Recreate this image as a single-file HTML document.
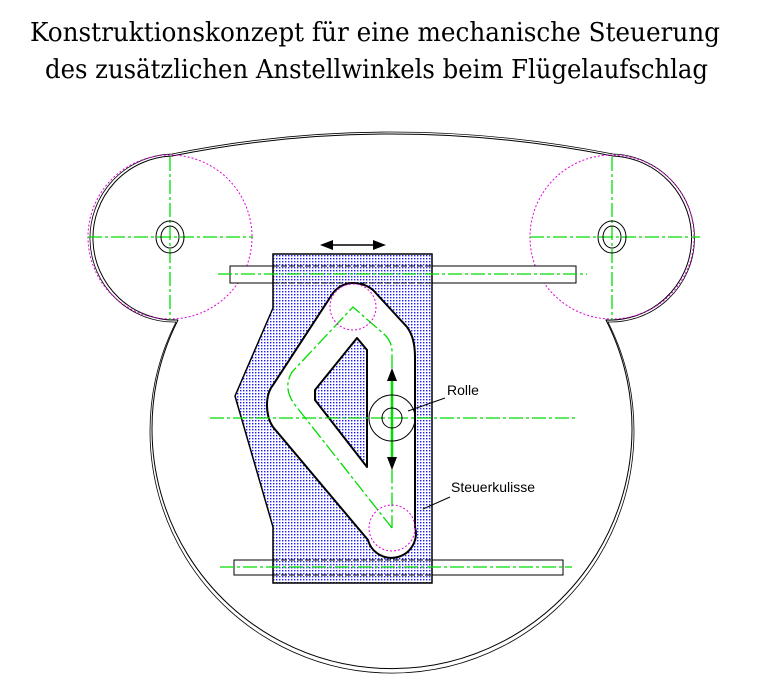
<!DOCTYPE html>
<html><head><meta charset="utf-8"><style>
html,body{margin:0;padding:0;background:#fff;width:783px;height:680px;overflow:hidden}
</style></head><body>
<svg width="783" height="680" viewBox="0 0 783 680" xmlns="http://www.w3.org/2000/svg">
<defs>
<pattern id="dots" width="3" height="3" patternUnits="userSpaceOnUse">
<rect width="3" height="3" fill="#fff"/><rect x="0" y="0" width="1.4" height="1.4" fill="#1a1aff"/>
</pattern>
</defs>
<text x="30" y="41" font-family="DejaVu Serif Condensed, DejaVu Serif, serif" font-stretch="condensed" font-size="26" textLength="690" lengthAdjust="spacingAndGlyphs">Konstruktionskonzept für eine mechanische Steuerung</text>
<text x="45" y="78" font-family="DejaVu Serif Condensed, DejaVu Serif, serif" font-stretch="condensed" font-size="26" textLength="663" lengthAdjust="spacingAndGlyphs">des zusätzlichen Anstellwinkels beim Flügelaufschlag</text>

<!-- outer contour -->
<g fill="none" stroke="#000" stroke-width="1">
<path d="M178,320 A82,82 0 0 1 172,156 Q390,112 613,156 A82,82 0 0 1 606,320 A240,240 0 1 1 178,320"/>
<path d="M176,322 A84,84 0 0 1 172,154 Q390,110 613,154 A84,84 0 0 1 608,322 A242,242 0 1 1 176,322" stroke-width="0.8"/>
</g>

<!-- magenta circles -->
<g fill="none" stroke="#e000e0" stroke-width="1" stroke-dasharray="2,2">
<circle cx="170" cy="237" r="82"/>
<circle cx="612" cy="237" r="82"/>
</g>

<!-- centerlines lobes -->
<g stroke="#00dd00" stroke-width="1.3" stroke-dasharray="14,3,3,3" fill="none">
<line x1="88" y1="237" x2="253" y2="237"/>
<line x1="170" y1="157" x2="170" y2="320"/>
<line x1="530" y1="237" x2="700" y2="237"/>
<line x1="612" y1="157" x2="612" y2="320"/>
</g>
<g fill="none" stroke="#000">
<ellipse cx="170" cy="237" rx="14" ry="16"/><ellipse cx="170" cy="237" rx="9" ry="11"/>
<ellipse cx="612" cy="237" rx="14" ry="16"/><ellipse cx="612" cy="237" rx="9" ry="11"/>
</g>

<!-- rods -->
<rect x="230" y="266" width="346" height="17" fill="#fff" stroke="#000"/>
<rect x="234" y="560" width="329" height="15" fill="#fff" stroke="#000"/>

<!-- block -->
<path d="M273,254 L432,254 L432,583 L273,583 L273,527 L235,396 L273,308 Z" fill="url(#dots)" stroke="#000" stroke-width="1.5"/>
<!-- slot -->
<path d="M353,283 C362,283 368,286 373,290 L407,327 C413,335 415,345 415,357 L415,527 A23,23 0 0 1 368,540 L273,427 C265,415 265,395 273,385 L333,293 C338,287 345,283 353,283 Z" fill="#fff" stroke="#000" stroke-width="2"/>
<path d="M357,338 L367,350 L367,467 L315,400 L315,390 Z" fill="url(#dots)" stroke="#000" stroke-width="2" stroke-linejoin="round"/>

<line x1="273" y1="266" x2="432" y2="266" stroke="#000" stroke-dasharray="6,2"/>
<line x1="273" y1="283" x2="432" y2="283" stroke="#000" stroke-dasharray="6,2"/>
<line x1="273" y1="560" x2="432" y2="560" stroke="#000" stroke-dasharray="6,2"/>
<line x1="273" y1="575" x2="432" y2="575" stroke="#000" stroke-dasharray="6,2"/>

<g stroke="#00dd00" stroke-width="1.3" stroke-dasharray="14,3,3,3" fill="none">
<line x1="218" y1="274" x2="587" y2="274"/>
<line x1="220" y1="567" x2="572" y2="567"/>
<line x1="210" y1="418" x2="575" y2="418"/>
<path d="M392,528 L295,405 C286,393 286,382 292,372 L353,307 L385,335 Q392,342 392,352 L392,528"/>
</g>
<line x1="392" y1="380" x2="392" y2="458" stroke="#00dd00" stroke-width="2.5"/>

<g fill="none" stroke="#e000e0" stroke-width="1" stroke-dasharray="2,2">
<circle cx="353" cy="307" r="23"/>
<circle cx="392" cy="528" r="23"/>
</g>

<circle cx="392" cy="418" r="23" fill="none" stroke="#000"/>
<circle cx="392" cy="418" r="10" fill="none" stroke="#000"/>
<path d="M392,368 L387,381 L397,381 Z M392,470 L387,457 L397,457 Z" fill="#000"/>
<line x1="325" y1="245" x2="380" y2="245" stroke="#000" stroke-width="1.5"/>
<path d="M320,245 L333,240 L333,250 Z M386,245 L373,240 L373,250 Z" fill="#000"/>

<line x1="445" y1="398" x2="408" y2="411" stroke="#000"/>
<text x="447" y="395" font-family="Liberation Sans, sans-serif" font-size="14">Rolle</text>
<line x1="450" y1="497" x2="423" y2="509" stroke="#000"/>
<text x="451" y="492" font-family="Liberation Sans, sans-serif" font-size="14">Steuerkulisse</text>
</svg>
</body></html>
